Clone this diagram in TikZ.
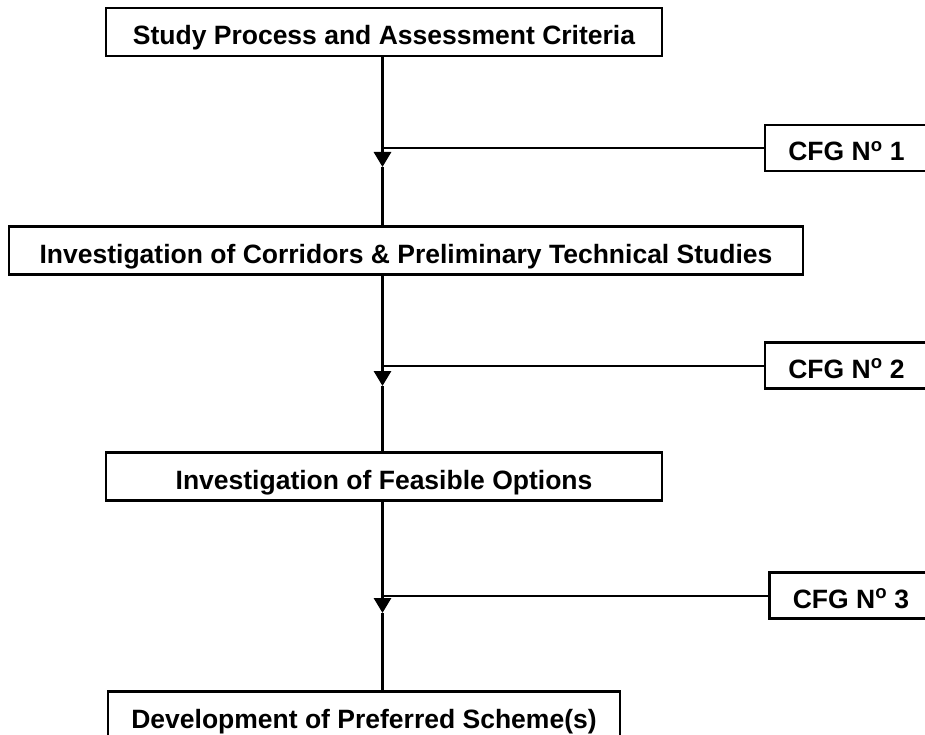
\documentclass[tikz,border=0pt]{standalone}
\usepackage{fontspec}
\setmainfont{Liberation Sans}
\usepackage{tikz}
\usetikzlibrary{arrows.meta}
\usetikzlibrary{positioning}
\tikzset{
    stage/.style={
           rectangle,
           draw=black, line width=2.5pt,
           minimum height=48pt,
           inner sep=0pt,
           text height=25pt, text depth=0pt,
           font=\bfseries\fontsize{26.5}{30}\selectfont,
           text centered,
           },
    cfg/.style={
           stage,
           minimum width=163pt,
           minimum height=46pt,
           },
    flow/.style={line width=3pt},
    stem/.style={line width=2.2pt},
    feed/.style={line width=2pt},
}

\begin{document}
\begin{tikzpicture}[>={Triangle[width=17pt,length=15pt]}, x=1pt, y=1pt]
 \useasboundingbox (0,0) rectangle (925,-735);
 \node[stage,
 minimum width=556pt] (study) at (384,-32)
 {Study Process and Assessment Criteria};
 \node[stage,
 below of=study,
 node distance=218.5pt,
 xshift=22pt,
 minimum width=794pt] (corridors)
 {Investigation of Corridors \& Preliminary Technical Studies};
 \node[stage,
 below of=corridors,
 node distance=226pt,
 xshift=-22pt,
 minimum width=556pt] (options)
 {Investigation of Feasible Options};
 \node[stage,
 below of=options,
 node distance=239pt,
 xshift=-20pt,
 minimum width=512pt] (scheme)
 {Development of Preferred Scheme(s)};

 % consultation groups on the right
 \node[cfg] (cfg1) at (846.5,-148) {CFG N\textsuperscript{o} 1};
 \node[cfg] (cfg2) at (846.5,-365.5) {CFG N\textsuperscript{o} 2};
 \node[cfg] (cfg3) at (851,-595.5) {CFG N\textsuperscript{o} 3};

 \coordinate (tip1) at (382.5,-167);
 \coordinate (tip2) at (382.5,-386);
 \coordinate (tip3) at (382.5,-613);

 % draw the main flow and the feeds from the groups
 \draw[flow,->] (study.south -| tip1) -- (tip1);
 \draw[stem] (tip1) -- (corridors.north -| tip1);
 \draw[feed] (cfg1.west) -- (cfg1.west -| tip1);

 \draw[flow,->] (corridors.south -| tip2) -- (tip2);
 \draw[stem] (tip2) -- (options.north -| tip2);
 \draw[feed] (cfg2.west) -- (cfg2.west -| tip2);

 \draw[flow,->] (options.south -| tip3) -- (tip3);
 \draw[stem] (tip3) -- (scheme.north -| tip3);
 \draw[feed] (cfg3.west) -- (cfg3.west -| tip3);
\end{tikzpicture}
\end{document}
